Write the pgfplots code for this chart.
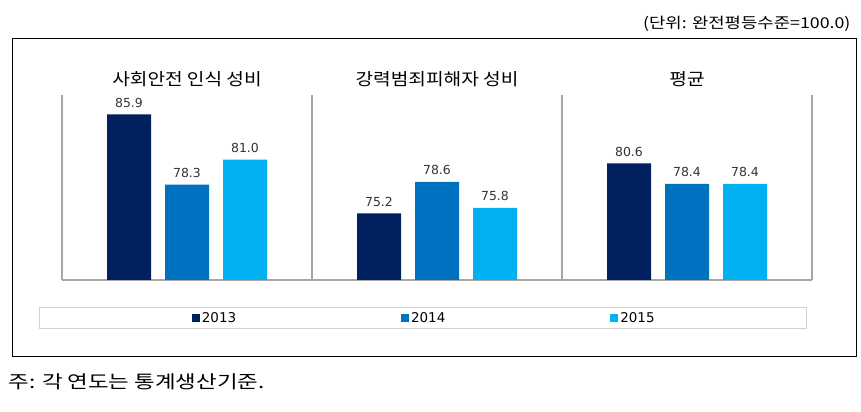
\documentclass[border=0pt]{standalone}
\usepackage{pgfplots}
\pgfplotsset{compat=1.18}
\usepackage{fontspec}
\setmainfont{DejaVu Sans}
\newfontfamily\kr[FakeStretch=1.13]{Noto Sans CJK KR}
\newfontfamily\kru[FakeStretch=1.19]{Noto Sans CJK KR}
\newfontfamily\krw[FakeStretch=1.25]{Noto Sans CJK KR}
\definecolor{c13}{HTML}{002060}
\definecolor{c14}{HTML}{0070C0}
\definecolor{c15}{HTML}{00B0F0}
\definecolor{gl}{HTML}{A6A6A6}
\begin{document}
\begin{tikzpicture}
\useasboundingbox (0bp,0bp) rectangle (861bp,412bp);
\draw[black, line width=0.9bp] (12bp,56bp) rectangle (856bp,374bp);
\draw[gray!35, line width=0.9bp] (39bp,83.5bp) rectangle (806bp,104.5bp);
\begin{axis}[
  at={(62bp,132bp)}, anchor=south west, scale only axis,
  width=750bp, height=185bp,
  xmin=0, xmax=3, ymin=68, ymax=88,
  axis x line*=bottom, axis y line=none,
  axis line style={gl, line width=1.1bp},
  xtick={0,1,2,3}, xticklabels={}, major tick length=0pt,
  xmajorgrids, grid style={gl, line width=1.1bp},
  ytick=\empty,
  ybar, bar width=0.176,
  /pgf/number format/assume math mode=true,
  nodes near coords={\pgfmathprintnumber[fixed,fixed zerofill,precision=1]{\pgfplotspointmeta}},
  nodes near coords style={font=\fontsize{12.5}{14}\selectfont, text=black!80, anchor=south, inner sep=0pt, yshift=7bp},
  legend columns=3,
  legend style={at={(0.483,-0.205)}, anchor=center, draw=none, fill=none,
    font=\fontsize{13.5}{15}\selectfont,
    /tikz/every even column/.append style={column sep=163bp}},
  legend image code/.code={\fill[#1] (0bp,-4bp) rectangle (8bp,4bp);},
]
\addplot[fill=c13, draw=none, bar shift=-0.232] coordinates {(0.5,85.9) (1.5,75.2) (2.5,80.6)};
\addplot[fill=c14, draw=none, bar shift=0] coordinates {(0.5,78.3) (1.5,78.6) (2.5,78.4)};
\addplot[fill=c15, draw=none, bar shift=0.232] coordinates {(0.5,81.0) (1.5,75.8) (2.5,78.4)};
\legend{2013,2014,2015}
\end{axis}
\node[font=\kr\fontsize{17}{20}\selectfont] at (187bp,332.5bp) {사회안전 인식 성비};
\node[font=\kr\fontsize{17}{20}\selectfont] at (437bp,332.5bp) {강력범죄피해자 성비};
\node[font=\kr\fontsize{17}{20}\selectfont] at (687bp,332.5bp) {평균};
\node[font=\kru\fontsize{15}{18}\selectfont, anchor=east] at (854bp,388bp) {(단위: 완전평등수준=100.0)};
\node[font=\krw\fontsize{18}{21}\selectfont, anchor=west] at (5bp,30bp) {주: 각 연도는 통계생산기준.};
\end{tikzpicture}
\end{document}
